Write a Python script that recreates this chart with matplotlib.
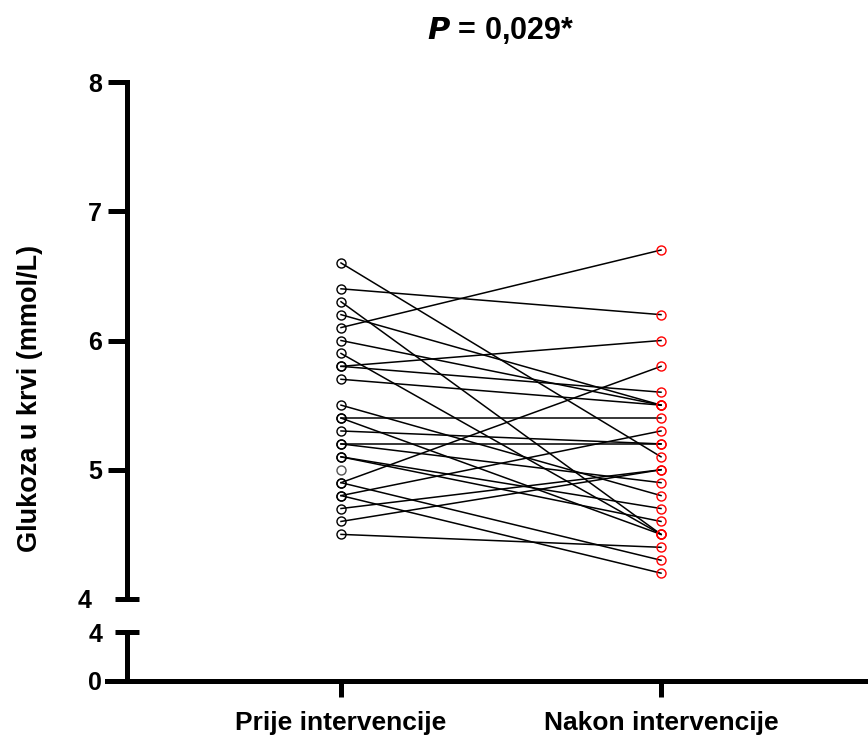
import matplotlib.pyplot as plt
import numpy as np

# paired glucose values (mmol/L)
prije = [6.6, 6.4, 6.3, 6.2, 6.1, 6.0, 5.9, 5.8, 5.8, 5.7, 5.5, 5.4, 5.4,
         5.3, 5.2, 5.2, 5.1, 5.1, 4.9, 4.9, 4.8, 4.8, 4.7, 4.6, 4.5]
nakon = [5.1, 6.2, 4.5, 5.5, 6.7, 5.5, 4.5, 6.0, 5.6, 5.5, 4.8, 5.4, 4.5,
         5.2, 5.2, 4.9, 4.7, 4.6, 5.8, 4.3, 5.3, 4.2, 5.0, 5.0, 4.4]
# subject with no follow-up value
prije_only = [5.0]

categories = ['Prije intervencije', 'Nakon intervencije']
title_p = '0,029'

plt.rcParams['font.family'] = ['Liberation Sans', 'DejaVu Sans']
plt.rcParams['font.weight'] = 'bold'

W, H = 868, 735
fig = plt.figure(figsize=(W / 100, H / 100), dpi=100)

def box(x0, y_top, x1, y_bot):
    return [x0 / W, 1 - y_bot / H, (x1 - x0) / W, (y_bot - y_top) / H]

ax_top = fig.add_axes(box(107, 82, 868, 599))
ax_bot = fig.add_axes(box(107, 632, 868, 681))

# x scale: categories at 0 and 1 (341 px and 661 px)
xl = (-(341 - 107) / 320, (868 - 341) / 320)
spine_x = -(341 - 127) / 320
x = np.arange(len(categories))

lw = 3.6
for ax in (ax_top, ax_bot):
    ax.set_xlim(*xl)
    for s in ('top', 'right'):
        ax.spines[s].set_visible(False)
    ax.spines['left'].set_position(('data', spine_x))
    ax.spines['left'].set_linewidth(lw)
    ax.spines['bottom'].set_linewidth(lw)
    ax.tick_params(axis='y', labelsize=18, width=lw)

# lines between pairs
for a, b in zip(prije, nakon):
    ax_top.plot(x, [a, b], color='black', lw=1.1, zorder=2)
ax_top.plot(np.zeros(len(prije)), prije, 'o', ms=6.5, mfc='none', mec='black', mew=1.0, zorder=3)
ax_top.plot(np.ones(len(nakon)), nakon, 'o', ms=6.5, mfc='none', mec='red', mew=1.0, zorder=3)
ax_top.plot(np.zeros(len(prije_only)), prije_only, 'o', ms=6.5, mfc='none', mec='#555555', mew=1.0, zorder=3)

# top segment 4-8
ax_top.set_ylim(4, 8)
ax_top.spines['bottom'].set_visible(False)
ax_top.tick_params(axis='x', bottom=False, labelbottom=False)
ax_top.set_yticks([5, 6, 7, 8])
ax_top.set_yticks([4], labels=['4'], minor=True)
ax_top.tick_params(axis='y', which='major', direction='out', length=14, pad=4)
ax_top.tick_params(axis='y', which='minor', direction='inout', length=17, width=lw, labelsize=18, pad=17)

# bottom segment 0-4
ax_bot.set_ylim(0, 4)
ax_bot.set_yticks([0])
ax_bot.set_yticks([4], labels=['4'], minor=True)
ax_bot.tick_params(axis='y', which='major', direction='out', length=0, pad=18)
ax_bot.tick_params(axis='y', which='minor', direction='inout', length=17, width=lw, labelsize=18, pad=9)
ax_bot.set_xticks(x, categories)
ax_bot.tick_params(axis='x', direction='out', length=11.5, width=lw, labelsize=19, pad=10)

for t in ax_top.get_yticklabels(minor=False) + ax_top.get_yticklabels(minor=True) + \
         ax_bot.get_yticklabels(minor=False) + ax_bot.get_yticklabels(minor=True) + ax_bot.get_xticklabels():
    t.set_fontweight('bold')

ax_top.text(0.5, 1.1, r'$\bfit{P}$' + ' = ' + title_p + '*', transform=ax_top.get_xaxis_transform(),
            ha='center', va='center', fontsize=22, fontweight='bold')

fig.text(30 / W, 1 - 398 / H, 'Glukoza u krvi (mmol/L)', rotation=90, ha='center', va='center',
         fontsize=19.5, fontweight='bold')

fig.savefig('out.png', dpi=100)
